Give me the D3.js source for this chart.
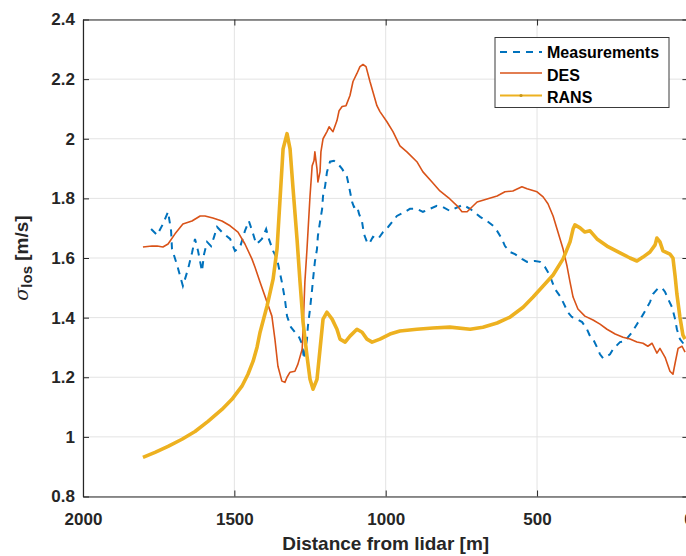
<!DOCTYPE html>
<html><head><meta charset="utf-8">
<script src="https://cdn.jsdelivr.net/npm/d3@7"></script>
<style>
body{margin:0;background:#fff;overflow:hidden;}
svg{display:block;font-family:"Liberation Sans",Arial,Helvetica,sans-serif;}
</style></head><body>
<svg id="c" width="686" height="556"></svg>
<script>
const xTicks=[2000,1500,1000,500,0];
const yTicks=[0.8,1,1.2,1.4,1.6,1.8,2,2.2,2.4];
const seriesNames=["Measurements","DES","RANS"];
const seriesColors=["#0072BD","#D95319","#EDB120"];
const xLabel="Distance from lidar [m]";

const measurements=[[1775,1.697],[1755,1.677],[1736,1.714],[1719,1.755],[1709,1.691],[1706,1.630],[1689,1.576],[1670,1.506],[1653,1.563],[1640,1.617],[1630,1.664],[1620,1.624],[1607,1.556],[1600,1.613],[1590,1.654],[1577,1.640],[1567,1.671],[1557,1.704],[1541,1.687],[1514,1.664],[1498,1.624],[1481,1.637],[1465,1.691],[1452,1.724],[1438,1.681],[1428,1.647],[1419,1.654],[1409,1.664],[1395,1.697],[1386,1.664],[1372,1.624],[1359,1.597],[1343,1.519],[1333,1.462],[1326,1.405],[1313,1.368],[1300,1.351],[1286,1.334],[1276,1.311],[1270,1.261],[1260,1.328],[1257,1.371],[1250,1.429],[1243,1.496],[1240,1.529],[1234,1.587],[1227,1.630],[1224,1.674],[1217,1.721],[1210,1.765],[1207,1.808],[1200,1.842],[1194,1.889],[1184,1.923],[1171,1.926],[1158,1.916],[1144,1.899],[1128,1.872],[1121,1.839],[1111,1.788],[1105,1.771],[1095,1.775],[1088,1.748],[1078,1.721],[1072,1.681],[1062,1.654],[1055,1.647],[1042,1.671],[1025,1.664],[1009,1.687],[992,1.704],[976,1.724],[963,1.741],[936,1.755],[920,1.765],[897,1.765],[877,1.755],[854,1.765],[831,1.775],[811,1.771],[788,1.758],[761,1.771],[745,1.778],[721,1.765],[688,1.738],[665,1.724],[645,1.708],[632,1.691],[616,1.664],[606,1.640],[589,1.620],[573,1.613],[550,1.597],[533,1.587],[507,1.590],[490,1.587],[474,1.570],[460,1.546],[441,1.496],[424,1.472],[414,1.452],[398,1.418],[385,1.402],[368,1.395],[351,1.385],[335,1.361],[325,1.338],[315,1.328],[302,1.301],[292,1.277],[282,1.264],[269,1.271],[259,1.277],[249,1.294],[226,1.318],[209,1.321],[200,1.334],[186,1.351],[170,1.378],[153,1.405],[143,1.422],[127,1.452],[117,1.479],[100,1.499],[87,1.499],[77,1.486],[67,1.462],[54,1.435],[44,1.395],[38,1.361],[28,1.328],[15,1.311]];

const des=[[1802,1.637],[1772,1.640],[1755,1.640],[1736,1.637],[1719,1.647],[1696,1.681],[1670,1.714],[1640,1.724],[1613,1.741],[1597,1.741],[1571,1.734],[1541,1.724],[1514,1.708],[1488,1.687],[1465,1.647],[1442,1.597],[1432,1.570],[1415,1.519],[1392,1.452],[1376,1.405],[1366,1.328],[1356,1.237],[1343,1.187],[1333,1.183],[1326,1.200],[1316,1.217],[1300,1.220],[1290,1.244],[1276,1.294],[1273,1.361],[1267,1.519],[1260,1.630],[1250,1.808],[1243,1.909],[1237,1.926],[1234,1.956],[1227,1.899],[1224,1.855],[1217,1.889],[1214,1.956],[1207,2.000],[1194,2.024],[1187,2.040],[1177,2.027],[1174,2.024],[1161,2.061],[1154,2.094],[1144,2.108],[1131,2.111],[1118,2.145],[1108,2.192],[1095,2.219],[1085,2.242],[1075,2.249],[1065,2.242],[1052,2.192],[1029,2.111],[1019,2.091],[996,2.057],[976,2.024],[953,1.976],[930,1.956],[897,1.923],[877,1.889],[847,1.855],[821,1.825],[788,1.798],[764,1.775],[748,1.755],[731,1.755],[715,1.771],[698,1.788],[665,1.798],[632,1.808],[606,1.822],[580,1.825],[550,1.839],[533,1.832],[500,1.822],[480,1.805],[464,1.782],[447,1.741],[431,1.687],[414,1.630],[401,1.573],[391,1.519],[381,1.469],[365,1.429],[342,1.405],[315,1.392],[292,1.378],[269,1.361],[242,1.345],[216,1.334],[193,1.328],[170,1.318],[150,1.314],[134,1.304],[120,1.314],[104,1.281],[94,1.297],[77,1.267],[61,1.220],[51,1.210],[44,1.247],[34,1.297],[21,1.304],[11,1.284]];

const rans=[[1802,0.931],[1762,0.948],[1719,0.968],[1673,0.992],[1630,1.018],[1587,1.052],[1541,1.092],[1508,1.126],[1475,1.170],[1455,1.210],[1438,1.254],[1425,1.301],[1415,1.351],[1392,1.439],[1372,1.529],[1359,1.630],[1349,1.798],[1339,1.966],[1326,2.017],[1316,1.966],[1306,1.832],[1293,1.664],[1283,1.519],[1273,1.385],[1260,1.271],[1250,1.193],[1240,1.160],[1227,1.193],[1217,1.294],[1207,1.395],[1194,1.418],[1177,1.395],[1161,1.361],[1151,1.328],[1134,1.318],[1118,1.338],[1095,1.361],[1078,1.351],[1062,1.328],[1045,1.318],[1019,1.328],[986,1.345],[953,1.355],[897,1.361],[844,1.365],[788,1.368],[721,1.361],[679,1.368],[632,1.382],[589,1.402],[546,1.435],[513,1.469],[480,1.506],[447,1.543],[414,1.597],[391,1.654],[381,1.697],[375,1.711],[358,1.701],[342,1.687],[325,1.691],[302,1.664],[269,1.640],[226,1.617],[193,1.600],[170,1.590],[150,1.603],[127,1.620],[110,1.644],[104,1.667],[94,1.654],[84,1.624],[61,1.613],[51,1.600],[44,1.540],[38,1.479],[28,1.402],[18,1.341],[11,1.328]];

const L=83,R=688.4,T=19.5,B=496.5;
const x=d3.scaleLinear().domain([2000,0]).range([L,R]);
const y=d3.scaleLinear().domain([0.8,2.4]).range([B,T]);
const svg=d3.select("#c");
const axisColor="#262626";

// grid
const grid=svg.append("g");
grid.selectAll("line.gx").data(xTicks).join("line")
  .attr("x1",d=>x(d)).attr("x2",d=>x(d)).attr("y1",T).attr("y2",B)
  .attr("stroke","#e3e3e3").attr("stroke-width",1);
grid.selectAll("line.gy").data(yTicks).join("line")
  .attr("x1",L).attr("x2",R).attr("y1",d=>y(d)).attr("y2",d=>y(d))
  .attr("stroke","#e3e3e3").attr("stroke-width",1);

// clip
svg.append("clipPath").attr("id","clip").append("rect")
  .attr("x",L).attr("y",T).attr("width",R-L).attr("height",B-T);

const line=d3.line().x(d=>x(d[0])).y(d=>y(d[1]));
const plot=svg.append("g").attr("clip-path","url(#clip)");
plot.append("path").datum(measurements).attr("d",line).attr("fill","none")
  .attr("stroke",seriesColors[0]).attr("stroke-width",2).attr("stroke-dasharray","7,6");
plot.append("path").datum(des).attr("d",line).attr("fill","none")
  .attr("stroke",seriesColors[1]).attr("stroke-width",1.6).attr("stroke-linejoin","round");
plot.append("path").datum(rans).attr("d",line).attr("fill","none")
  .attr("stroke",seriesColors[2]).attr("stroke-width",3.6).attr("stroke-linejoin","round");

// axes
function styleAxis(g){
  g.selectAll("path").attr("stroke",axisColor).attr("stroke-width",1.2);
  g.selectAll("line").attr("stroke",axisColor).attr("stroke-width",1);
  g.selectAll("text").attr("fill",axisColor).attr("font-size","17px").attr("font-weight","bold")
    .attr("font-family","'Liberation Sans',Arial,sans-serif");
}
svg.append("g").attr("transform",`translate(0,${B})`)
  .call(d3.axisBottom(x).tickValues(xTicks).tickSizeInner(-6).tickSizeOuter(0).tickPadding(16).tickFormat(d3.format("d")))
  .call(styleAxis);
svg.append("g").attr("transform",`translate(${L},0)`)
  .call(d3.axisLeft(y).tickValues(yTicks).tickSizeInner(-6).tickSizeOuter(0).tickPadding(8).tickFormat(d=>String(+d.toFixed(1))))
  .call(styleAxis);
svg.append("g").attr("transform",`translate(0,${T})`)
  .call(d3.axisTop(x).tickValues(xTicks).tickSizeInner(-6).tickSizeOuter(0).tickFormat(""))
  .call(styleAxis);
svg.append("g").attr("transform",`translate(${R},0)`)
  .call(d3.axisRight(y).tickValues(yTicks).tickSizeInner(-6).tickSizeOuter(0).tickFormat(""))
  .call(styleAxis);

// x label
svg.append("text").attr("x",(L+R)/2).attr("y",550).attr("text-anchor","middle")
  .attr("font-size","19px").attr("font-weight","bold").attr("fill",axisColor).text(xLabel);

// y label
const yl=svg.append("text").attr("transform",`translate(28,${(T+B)/2}) rotate(-90)`)
  .attr("text-anchor","middle").attr("fill",axisColor).attr("font-size","19px");
yl.append("tspan").attr("font-family","'DejaVu Serif',serif").attr("font-style","italic").text("σ");
yl.append("tspan").attr("font-size","15px").attr("font-weight","bold").attr("dy","4").text("los");
yl.append("tspan").attr("font-weight","bold").attr("dy","-4").text(" [m/s]");

// legend
const lg=svg.append("g");
lg.append("rect").attr("x",495).attr("y",37.5).attr("width",174).attr("height",70)
  .attr("fill","#fff").attr("stroke","#3a3a3a").attr("stroke-width",1);
const rowsLineY=[52,73,95.5], rowsTextY=[58.3,80.5,102.5];
seriesNames.forEach((n,i)=>{
  const ln=lg.append("line").attr("x1",500).attr("x2",542).attr("y1",rowsLineY[i]).attr("y2",rowsLineY[i])
    .attr("stroke",seriesColors[i]).attr("stroke-width",i===0?2:(i===1?1.6:2));
  if(i===0) ln.attr("stroke-dasharray","7,6");
  if(i===2) lg.append("circle").attr("cx",521).attr("cy",rowsLineY[i]).attr("r",1.6).attr("fill","#c8961a");
  lg.append("text").attr("x",547).attr("y",rowsTextY[i]).attr("font-size","16px").attr("font-weight","bold")
    .attr("fill","#000").text(n);
});
</script>
</body></html>
